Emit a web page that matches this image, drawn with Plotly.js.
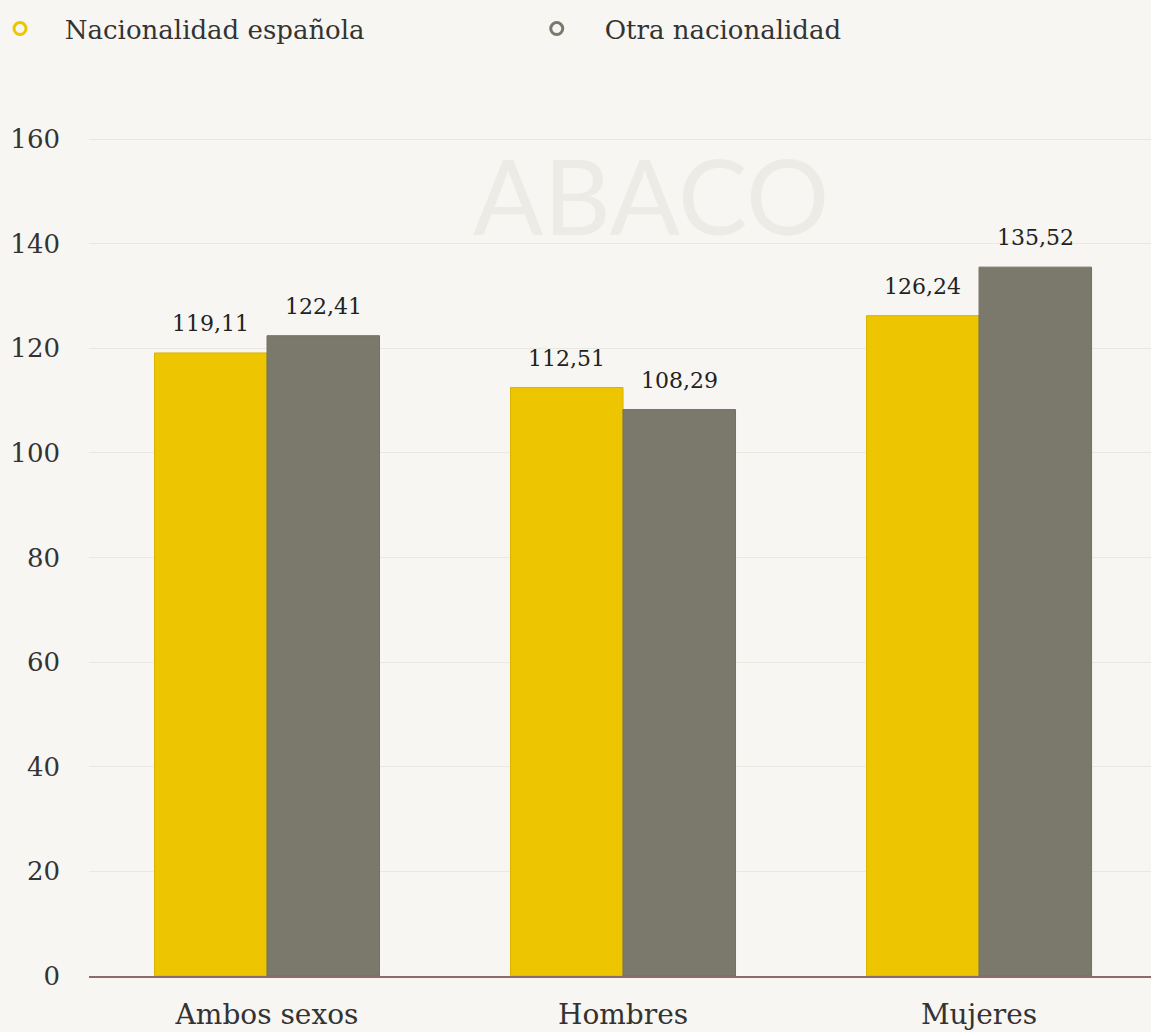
<!DOCTYPE html>
<html><head><meta charset="utf-8">
<script src="https://cdn.plot.ly/plotly-3.0.1.min.js"></script>
<style>html,body{margin:0;padding:0;background:#f7f6f2;}</style>
</head><body>
<div id="chart" style="width:1151px;height:1032px;"></div>
<script>
const categories = ["Ambos sexos", "Hombres", "Mujeres"];
const espanola = [119.11, 112.51, 126.24];
const otra = [122.41, 108.29, 135.52];
const seriesNames = ["Nacionalidad española", "Otra nacionalidad"];
const yTicks = [0, 20, 40, 60, 80, 100, 120, 140, 160];

const colYellow = "#edc500";
const colGray = "#7b796b";
const FONT = "DejaVu Serif, serif";
const BARW = 0.316; // width of one bar in category units (derived from bargap)
const PAD = "\u00a0\u00a0\u00a0"; // visual gap between legend marker and text

const traces = [
  {type:"bar", x:categories, y:espanola, name:seriesNames[0], marker:{color:colYellow, line:{color:"#d9b400", width:1}},
   showlegend:false, hoverinfo:"skip"},
  {type:"bar", x:categories, y:otra, name:seriesNames[1], marker:{color:colGray, line:{color:"#737163", width:1}},
   showlegend:false, hoverinfo:"skip"},
  {type:"scatter", mode:"markers", x:[null], y:[null], name:PAD + seriesNames[0], legend:"legend",
   marker:{symbol:"circle-open", size:12, color:colYellow, line:{width:3, color:colYellow}}},
  {type:"scatter", mode:"markers", x:[null], y:[null], name:seriesNames[1], legend:"legend2",
   marker:{symbol:"circle-open", size:12, color:colGray, line:{width:3, color:colGray}}}
];

const fmt = v => v.toFixed(2).replace(".", ",");
const labelAnn = [];
[espanola, otra].forEach((arr, s) => {
  arr.forEach((v, i) => {
    labelAnn.push({xref:"x", yref:"y", x:i + (s === 0 ? -BARW/2 : BARW/2), y:v, text:fmt(v), showarrow:false,
      xanchor:"center", yanchor:"bottom", yshift:15, font:{family:FONT, size:22, color:"#222"}});
  });
});

const legendCommon = {orientation:"h", xref:"container", yref:"container", xanchor:"left", yanchor:"top",
  font:{family:FONT, size:26, color:"#333"}, bgcolor:"rgba(0,0,0,0)"};

const layout = {
  width:1151, height:1032,
  paper_bgcolor:"#f7f6f2", plot_bgcolor:"#f7f6f2",
  separators:",.",
  margin:{l:89, r:0, t:137, b:56},
  font:{family:FONT, color:"#333"},
  barmode:"group", bargap:0.368, bargroupgap:0,
  xaxis:{type:"category", range:[-0.5, 2.483], showgrid:false, showline:true, linecolor:"#8c6b6b", linewidth:2,
         ticks:"", tickfont:{family:FONT, size:28, color:"#333"}, ticklabelstandoff:12, zeroline:false, fixedrange:true},
  yaxis:{range:[0,160.4], tickvals:yTicks, ticktext:yTicks.map(String), showgrid:true, gridcolor:"#e9e8e3", gridwidth:1,
         zeroline:false, showline:false, ticks:"", tickfont:{family:FONT, size:26, color:"#333"}, ticklabelstandoff:28, fixedrange:true},
  legend:Object.assign({}, legendCommon, {x:0, y:0.995, itemwidth:30}),
  legend2:Object.assign({}, legendCommon, {x:0.442, y:0.995, itemwidth:86}),
  annotations:[{xref:"paper", yref:"paper", x:0.529, y:0.931, text:"ABACO", showarrow:false,
    font:{family:"Lato, sans-serif", size:104, color:"#ecebe6"}, xanchor:"center", yanchor:"middle"}].concat(labelAnn)
};

Plotly.newPlot("chart", traces, layout, {displayModeBar:false, staticPlot:true});
</script>
</body></html>
